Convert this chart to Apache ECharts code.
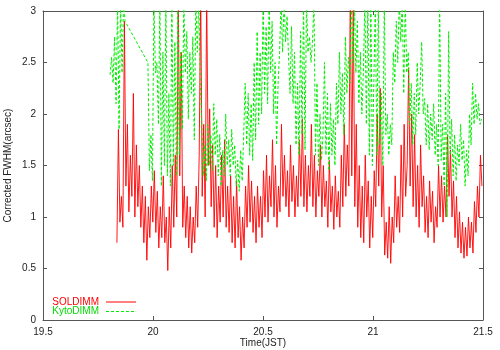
<!DOCTYPE html>
<html>
<head>
<meta charset="utf-8">
<script src="https://cdn.jsdelivr.net/npm/echarts@6/dist/echarts.min.js"></script>
<style>
  html, body { margin: 0; padding: 0; background: #fff; }
  #chart { width: 500px; height: 350px; }
</style>
</head>
<body>
<div id="chart"></div>
<script>
// axis ticks
const xTicks = [19.5, 20, 20.5, 21, 21.5];
const yTicks = [0, 0.5, 1, 1.5, 2, 2.5, 3];

// sampling clock of the two DIMMs (hour JST, step in hours)
const solStart = 19.836;
const sampleStep = 0.0068;
const kyotoStartA = 19.805;
const kyotoStartB = 19.977;

// SOLDIMM corrected FWHM (arcsec)
const solValues = [
  0.75, 1.85, 0.95, 1.2, 0.9, 2.9, 1.3, 1.9, 1.05, 1.6,
  1.2, 2.2, 1.0, 1.7, 1.1, 1.5, 0.9, 1.3, 0.75, 1.2,
  0.58, 1.1, 0.8, 1.3, 0.95, 1.45, 0.85, 1.25, 0.7, 1.1,
  0.8, 1.4, 0.75, 1.0, 0.48, 1.1, 0.7, 1.5, 0.9, 1.6,
  1.0, 3.2, 1.4, 2.6, 0.9, 1.3, 0.8, 1.2, 0.7, 1.1,
  0.65, 1.0, 0.75, 1.3, 0.9, 1.6, 3.2, 1.2, 1.9, 1.0,
  3.2, 1.5, 2.05, 1.1, 1.7, 0.9, 1.5, 0.8, 1.3, 0.95,
  1.6, 1.0, 1.75, 0.9, 1.3, 0.85, 1.4, 0.75, 1.2, 0.7,
  1.35, 0.8, 1.1, 0.58, 1.0, 0.7, 1.3, 0.9, 1.5, 0.95,
  1.35, 0.85, 1.2, 0.75, 1.3, 0.9, 1.2, 0.8, 1.45, 1.0,
  1.6, 0.95, 1.4, 1.1, 1.75, 1.0, 1.5, 0.9, 1.3, 1.05,
  1.9, 1.2, 1.6, 1.1, 1.45, 1.0, 1.7, 1.15, 1.5, 1.0,
  1.4, 1.1, 1.75, 1.2, 1.95, 1.1, 1.6, 1.05, 1.5, 1.2,
  1.9, 1.1, 1.6, 1.0, 1.45, 1.2, 1.7, 1.0, 1.5, 1.1,
  1.35, 0.9, 1.55, 1.05, 1.3, 0.88, 1.4, 1.0, 1.25, 0.9,
  1.6, 1.1, 1.9, 1.2, 1.7, 1.3, 3.2, 1.4, 3.1, 1.1,
  1.9, 0.9, 1.5, 0.8, 1.3, 0.75, 1.6, 1.0, 1.35, 0.7,
  1.2, 0.8, 1.45, 1.1, 2.0, 1.3, 2.25, 1.0, 1.5, 0.63,
  0.95, 0.6, 1.1, 0.55, 1.0, 0.75, 1.4, 0.9, 1.2, 0.85,
  1.7, 1.0, 1.9, 1.2, 1.5, 2.45, 1.3, 2.0, 1.1, 1.8,
  1.0, 1.5, 0.9, 1.7, 1.1, 1.4, 0.85, 1.2, 0.8, 1.35,
  0.95, 1.25, 0.75, 1.1, 0.9, 1.5, 1.0, 1.4, 0.95, 1.3,
  1.0, 1.8, 1.2, 1.65, 1.0, 1.35, 0.8, 1.2, 0.7, 1.05,
  0.65, 0.95, 0.6, 0.9, 0.62, 1.0, 0.7, 0.95, 0.65, 1.15,
  0.85, 1.3, 1.0, 1.6, 1.3
];

// KyotoDIMM corrected FWHM (arcsec): short first run, then data gap
const kyotoValuesA = [2.38, 2.55, 2.3, 2.75, 2.1, 3.1, 1.85, 3.1, 2.4, 3.1, 2.9];
const kyotoValuesB = [
  2.5, 1.45, 1.8, 1.35, 3.1, 2.4, 2.5, 1.9, 3.1, 1.3,
  2.6, 1.5, 3.1, 1.4, 2.2, 1.3, 3.1, 1.5, 2.7, 1.4,
  3.1, 1.6, 2.6, 1.85, 3.1, 2.4, 2.8, 1.95, 2.6, 2.2,
  2.75, 1.75, 3.1, 2.6, 3.1, 2.3, 1.9, 1.4, 1.7, 1.35,
  1.9, 1.5, 1.8, 1.45, 2.1, 1.6, 1.95, 1.4, 1.8, 1.3,
  1.65, 1.4, 2.0, 1.5, 1.75, 1.4, 1.85, 1.5, 1.7, 1.3,
  1.55, 1.25, 1.65, 1.35, 1.8, 2.3, 1.7, 2.2, 1.6, 2.1,
  1.55, 2.5, 1.75, 2.8, 1.9, 2.6, 2.0, 3.1, 2.2, 2.85,
  2.1, 3.1, 2.4, 2.9, 2.0, 2.5, 1.7, 2.3, 2.6, 3.1,
  2.6, 3.1, 2.7, 2.95, 2.55, 2.2, 2.85, 2.1, 2.6, 1.7,
  2.3, 1.6, 2.8, 1.8, 3.1, 1.65, 3.1, 2.6, 2.75, 2.5,
  2.7, 3.1, 1.6, 2.3, 1.5, 2.0, 1.55, 1.8, 2.5, 1.6,
  2.2, 1.45, 2.1, 1.6, 1.95, 1.5, 2.3, 1.9, 2.6, 2.0,
  2.4, 1.8, 2.75, 2.2, 2.55, 2.3, 3.1, 2.5, 3.1, 2.4,
  2.9, 2.1, 2.6, 2.0, 2.4, 3.1, 1.9, 3.1, 1.6, 3.1,
  1.5, 2.3, 3.1, 1.6, 3.1, 1.7, 2.2, 1.5, 3.1, 1.8,
  2.0, 1.6, 1.9, 1.7, 2.6, 2.3, 2.9, 2.5, 3.1, 2.7,
  3.1, 2.2, 3.1, 2.4, 2.6, 1.9, 2.3, 1.7, 2.2, 1.8,
  2.5, 2.0, 2.3, 2.7, 2.0, 2.15, 1.7, 2.1, 1.65, 2.0,
  1.75, 2.1, 1.6, 1.9, 1.5, 3.1, 1.55, 1.9, 1.3, 2.2,
  1.0, 2.8, 1.6, 1.95, 1.4, 1.8, 1.35, 1.7, 1.5, 1.9,
  1.55, 1.75, 1.3, 1.65, 1.4, 2.0, 1.7, 2.3, 1.9, 2.2,
  1.95, 2.1, 1.9, 1.95
];

const toPairs = (start, values) => values.map((v, i) => [+(start + i * sampleStep).toFixed(4), v]);
const solData = toPairs(solStart, solValues);
const kyotoData = toPairs(kyotoStartA, kyotoValuesA).concat(toPairs(kyotoStartB, kyotoValuesB));

const frame = '#555';
const font = 'Liberation Sans, Arial, sans-serif';

const baseX = {
    type: 'value', min: xTicks[0], max: xTicks[xTicks.length - 1], interval: 0.5,
    axisLine: { show: true, onZero: false, lineStyle: { color: frame, width: 1 } },
    axisTick: { show: true, inside: true, length: 4, lineStyle: { color: frame } },
    splitLine: { show: false }
};
const baseY = {
    type: 'value', min: yTicks[0], max: yTicks[yTicks.length - 1], interval: 0.5,
    axisLine: { show: true, onZero: false, lineStyle: { color: frame, width: 1 } },
    axisTick: { show: true, inside: true, length: 4, lineStyle: { color: frame } },
    splitLine: { show: false }
};

const dashIcon = 'path://M0,0h3v1h-3z M5,0h3v1h-3z M10,0h3v1h-3z M15,0h3v1h-3z M20,0h3v1h-3z M25,0h3v1h-3z M30,0h0.1v1h-0.1z';
const solidIcon = 'path://M0,0h30v1h-30z';

let chart = echarts.init(document.getElementById('chart'));
chart.setOption({
    animation: false,
    backgroundColor: '#fff',
    grid: { left: 43, right: 17, top: 11, bottom: 30, outerBoundsMode: 'none', containLabel: false },
    legend: [
        {
            right: 364, top: 297, itemWidth: 30, itemHeight: 1, align: 'right',
            data: [{ name: 'SOLDIMM', icon: solidIcon, textStyle: { color: '#ff0000' } }],
            textStyle: { fontFamily: font, fontSize: 10, padding: [0, 2, 0, 0] }, padding: 0
        },
        {
            right: 364, top: 306.5, itemWidth: 30, itemHeight: 1, align: 'right',
            data: [{ name: 'KytoDIMM', icon: dashIcon, textStyle: { color: '#00dd00' } }],
            textStyle: { fontFamily: font, fontSize: 10, padding: [0, 2, 0, 0] }, padding: 0
        }
    ],
    xAxis: [
        Object.assign({}, baseX, {
            position: 'bottom',
            name: 'Time(JST)', nameLocation: 'middle', nameGap: 18, nameMoveOverlap: false,
            nameTextStyle: { fontFamily: font, fontSize: 10, color: '#222' },
            axisLabel: {
                margin: 7, fontFamily: font, fontSize: 10, color: '#222',
                alignMinLabel: 'center', alignMaxLabel: 'center', hideOverlap: false
            }
        }),
        Object.assign({}, baseX, { position: 'top', axisLabel: { show: false } })
    ],
    yAxis: [
        Object.assign({}, baseY, {
            position: 'left',
            name: 'Corrected FWHM(arcsec)', nameLocation: 'middle', nameGap: 30, nameMoveOverlap: false,
            nameTextStyle: { fontFamily: font, fontSize: 10, color: '#222' },
            axisLabel: { margin: 7, fontFamily: font, fontSize: 10, color: '#222' }
        }),
        Object.assign({}, baseY, { position: 'right', axisLabel: { show: false } })
    ],
    series: [
        {
            name: 'SOLDIMM',
            type: 'line',
            symbol: 'none',
            color: '#ff0000',
            lineStyle: { color: '#ff0000', width: 1, opacity: 0.9 },
            data: solData,
            z: 2
        },
        {
            name: 'KytoDIMM',
            type: 'line',
            symbol: 'none',
            color: '#00ee00',
            lineStyle: { color: '#00ee00', width: 1, type: [3, 2] },
            data: kyotoData,
            z: 3
        }
    ]
});
</script>
</body>
</html>
